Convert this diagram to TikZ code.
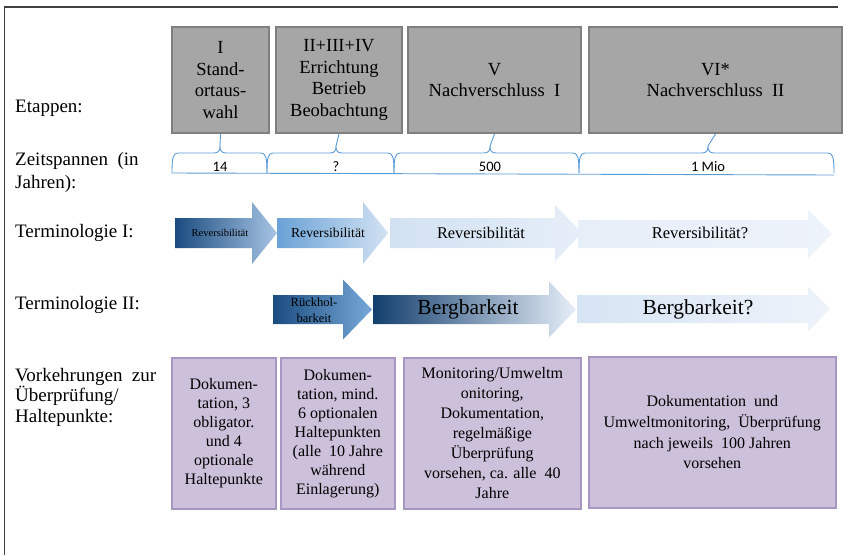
\documentclass[tikz,border=0pt]{standalone}
\usepackage{fontspec}
\setmainfont{Liberation Serif}
\newfontfamily\zahlfont{Carlito}
\usetikzlibrary{positioning}
\definecolor{stagegray}{HTML}{A6A6A6}
\definecolor{stageline}{HTML}{7F7F7F}
\definecolor{lilafill}{HTML}{CCC0DA}
\definecolor{lilaline}{HTML}{A896C2}
\definecolor{klammerblue}{HTML}{5B9BD5}
\definecolor{rahmen}{HTML}{404040}
\definecolor{navy}{HTML}{1B4C80}
\definecolor{navydark}{HTML}{133F6E}
\definecolor{midblue}{HTML}{6AA2D6}
\definecolor{headblue}{HTML}{A7C4E4}
\definecolor{paleblue}{HTML}{D2E1F2}
\definecolor{palerblue}{HTML}{E6EEF8}
\definecolor{palestblue}{HTML}{EEF3FA}

% arrow: name, x left, x head base, x tip, y centre, half body, half head, shading
\newcommand{\pfeil}[8]{%
  \shade[#8] (#2,#5-#6) -- (#3,#5-#6) -- (#3,#5-#7) -- (#4,#5) -- (#3,#5+#7)
    -- (#3,#5+#6) -- (#2,#5+#6) -- cycle;
  \coordinate (#1) at (#2,#5);}

\begin{document}
\begin{tikzpicture}[x=1pt, y=-1pt,
stage/.style ={rectangle, fill=stagegray, draw=stageline, line width=2pt,
  minimum height=106pt, align=center, inner sep=2pt,
  font=\fontsize{18.5}{21.7}\selectfont},
haltbox/.style ={rectangle, fill=lilafill, draw=lilaline, line width=1.6pt,
  minimum height=151pt, align=center, inner sep=2pt,
  font=\fontsize{16}{19}\selectfont},
rowlabel/.style ={anchor=west, align=left, inner sep=0pt,
  font=\fontsize{19}{23}\selectfont},
klammer/.style ={klammerblue, line width=0.9pt},
zahl/.style ={inner sep=0pt, font=\zahlfont\fontsize{14.5}{16}\selectfont},
pfeiltext/.style ={inner sep=0pt, text=black}]
  \useasboundingbox (0,0) rectangle (844,555);
  \draw[rahmen, line width=1.5pt] (4.5,555) -- (4.5,7) -- (838,7);

  % Etappen
  \node[rowlabel] (lEtappen) at (15,108) {Etappen:};
  \node[stage, minimum width=97pt, anchor=north west] (stageI) at (171,26)
    {I\\Stand-\\ortaus-\\wahl};
  \node[stage, minimum width=126pt, right=5pt of stageI] (stageII)
    {II+III+IV\\Errichtung\\Betrieb\\Beobachtung};
  \node[stage, minimum width=173pt, right=4pt of stageII] (stageV)
    {V\\Nachverschluss\ \ I};
  \node[stage, minimum width=253pt, right=6pt of stageV] (stageVI)
    {VI*\\Nachverschluss\ \ II};

  % Zeitspannen
  \node[rowlabel] (lZeit) at (15,172) {Zeitspannen\ \ (in\\Jahren):};
  \foreach \s/\xl/\xm/\xr/\zeit in {stageI/172/220/267/14, stageII/267/336/394/?,
      stageV/394/490/579/500, stageVI/579/708/834/1 Mio} {
    \draw[klammer] (\xl,173) .. controls (\xl,158) and (\xl+1,153) .. (\xl+6,153)
      -- (\xm-6,153) .. controls (\xm-1,153) and (\xm,150) .. (\xm,146)
      .. controls (\xm,150) and (\xm+1,153) .. (\xm+6,153)
      -- (\xr-6,153) .. controls (\xr-1,153) and (\xr,158) .. (\xr,173);
    \draw[klammer] (\s.south) -- (\xm,146);
    \node[zahl] (z\s) at (\xm,167) {\zeit};
  }
  \draw[klammer] (172,173) -- (834,175);

  % Terminologie I
  \node[rowlabel] (lTermI) at (15,233) {Terminologie I:};
  \pfeil{revI}{175}{252}{277}{233}{15}{31}{left color=navy, right color=headblue}
  \pfeil{revII}{277}{363}{388}{233}{15}{31}{left color=midblue, right color=paleblue}
  \pfeil{revV}{390}{555}{582}{233}{15}{28}{left color=paleblue, right color=palerblue}
  \pfeil{revVI}{578}{808}{832}{234}{14}{24}{left color=palerblue, right color=palestblue}
  \node[pfeiltext, font=\fontsize{10.5}{12}\selectfont] (tRevI) at (220,233) {Reversibilität};
  \node[pfeiltext, font=\fontsize{13.7}{15}\selectfont] (tRevII) at (328,233) {Reversibilität};
  \node[pfeiltext, font=\fontsize{16.3}{18}\selectfont] (tRevV) at (481,233) {Reversibilität};
  \node[pfeiltext, font=\fontsize{16.5}{18}\selectfont] (tRevVI) at (700,233) {Reversibilität?};

  % Terminologie II
  \node[rowlabel] (lTermII) at (15,305) {Terminologie II:};
  \pfeil{rueck}{273}{343}{372}{309.5}{14.5}{30}{left color=navy, right color=midblue!80!headblue}
  \pfeil{berg}{373}{549}{576}{309.5}{14.5}{28}{left color=navydark, right color=palerblue}
  \pfeil{bergq}{577}{808}{830}{309}{14}{22.5}{left color=paleblue!90!white, right color=palestblue}
  \node[pfeiltext, align=center, font=\fontsize{12.5}{16.5}\selectfont] (tRueck) at (314,310)
    {Rückhol-\\barkeit};
  \node[pfeiltext, font=\fontsize{21.5}{24}\selectfont] (tBerg) at (468,309) {Bergbarkeit};
  \node[pfeiltext, font=\fontsize{21.5}{24}\selectfont] (tBergq) at (698,309) {Bergbarkeit?};

  % Vorkehrungen
  \node[rowlabel, font=\fontsize{19}{20.5}\selectfont] (lVork) at (15,397)
    {Vorkehrungen\ \ zur\\Überprüfung/\\Haltepunkte:};
  \node[haltbox, minimum width=104pt, anchor=north west] (haltI) at (171,357)
    {Dokumen-\\tation, 3\\obligator.\\und 4\\optionale\\Haltepunkte};
  \node[haltbox, minimum width=114pt, anchor=north west] (haltII) at (280,357)
    {Dokumen-\\tation, mind.\\6 optionalen\\Haltepunkten\\(alle\ \ 10 Jahre\\während\\Einlagerung)};
  \node[haltbox, minimum width=177pt, anchor=north west, font=\fontsize{16}{20}\selectfont]
    (haltV) at (403,357)
    {Monitoring/Umweltm\\onitoring,\\Dokumentation,\\regelmäßige\\Überprüfung\\vorsehen, ca. alle\ \ 40\\Jahre};
  \node[haltbox, minimum width=247pt, anchor=north west, font=\fontsize{16}{20.7}\selectfont]
    (haltVI) at (588,356)
    {Dokumentation\ \ und\\Umweltmonitoring,\ \ Überprüfung\\nach jeweils\ \ 100 Jahren\\vorsehen};
\end{tikzpicture}
\end{document}
